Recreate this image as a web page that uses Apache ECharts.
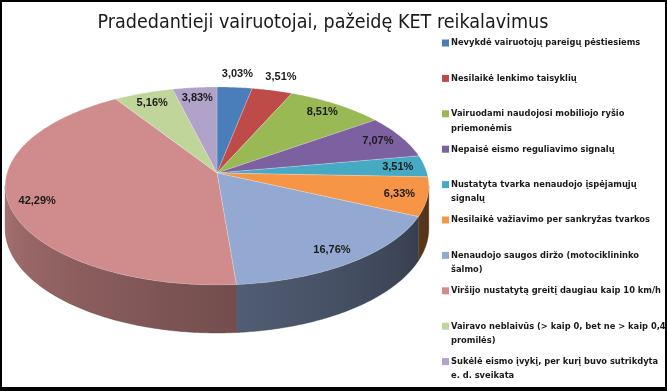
<!DOCTYPE html>
<html><head><meta charset="utf-8">
<script src="https://cdn.jsdelivr.net/npm/echarts@6/dist/echarts.min.js"></script>
<style>html,body{margin:0;padding:0;background:#fff}#c{width:667px;height:391px}</style>
</head><body><div id="c"></div>
<script>
// ---- data ----
const categories = [
  'Nevykdė vairuotojų pareigų pėstiesiems',
  'Nesilaikė lenkimo taisyklių',
  'Vairuodami naudojosi mobiliojo ryšio\npriemonėmis',
  'Nepaisė eismo reguliavimo signalų',
  'Nustatyta tvarka nenaudojo įspėjamųjų\nsignalų',
  'Nesilaikė važiavimo per sankryžas tvarkos',
  'Nenaudojo saugos diržo (motociklininko\nšalmo)',
  'Viršijo nustatytą greitį daugiau kaip 10 km/h',
  'Vairavo neblaivūs (> kaip 0, bet ne > kaip 0,4\npromilės)',
  'Sukėlė eismo įvykį, per kurį buvo sutrikdyta\ne. d. sveikata'
];
const values = [3.03, 3.51, 8.51, 7.07, 3.51, 6.33, 16.76, 42.29, 5.16, 3.83];
const colors = ['#4A7EBB','#BE4B48','#98B954','#7D60A0','#46AAC5','#F69545','#93A9D2','#D08C8C','#C0D59A','#B0A2C8'];
const titleText = 'Pradedantieji vairuotojai, pažeidę KET reikalavimus';

// ---- layout (projected 3D disk) ----
const CX = 217, CY = 173, R = 210, S = 97.3, K = 0.131, D = 41.7;
const outsideLabels = [0, 1];
const total = values.reduce((a, b) => a + b, 0);
const TAU = Math.PI * 2;

// font fitting
const FAMILY = '"Liberation Sans Narrow", "DejaVu Sans Condensed", sans-serif';
const mctx = document.createElement('canvas').getContext('2d');
function fitSize(text, weight, target) {
  mctx.font = weight + ' 100px ' + FAMILY;
  return 100 * target / mctx.measureText(text).width;
}
const titleSize = Math.min(22, fitSize(titleText, 'normal', 451));
const legendSize = Math.min(11.5, fitSize('Viršijo nustatytą greitį daugiau kaip 10 km/h', 'bold', 210));

function proj(r, phi) {
  const u = r * Math.sin(phi), v = -r * Math.cos(phi);
  const w = 1 - K * v;
  return [CX + R * u / w, CY + S * v / w, w];
}
function shade(hex, f) {
  const n = parseInt(hex.slice(1), 16);
  const r = Math.round(((n >> 16) & 255) * f), g = Math.round(((n >> 8) & 255) * f), b = Math.round((n & 255) * f);
  return 'rgb(' + r + ',' + g + ',' + b + ')';
}
function wallShade(phi) {
  const deg = phi * 180 / Math.PI;
  return 0.3 + 0.53 * (deg - 90) / 180;
}
const phiMin = Math.acos(-K), phiMax = TAU - Math.acos(-K);

function renderItem(params, api) {
  const i = params.dataIndex;
  let before = 0;
  for (let j = 0; j < i; j++) before += values[j];
  const a0 = before / total * TAU;
  const a1 = (before + api.value(0)) / total * TAU;
  const children = [];
  const pts = [[CX, CY]];
  const steps = Math.max(2, Math.ceil((a1 - a0) / 0.01));
  for (let s = 0; s <= steps; s++) {
    const p = proj(1, a0 + (a1 - a0) * s / steps);
    pts.push([p[0], p[1]]);
  }
  children.push({ type: 'polygon', z2: 10, shape: { points: pts },
    style: { fill: colors[i], stroke: 'rgba(255,255,255,0.35)', lineWidth: 0.6 } });
  const w0 = Math.max(a0, phiMin), w1 = Math.min(a1, phiMax);
  if (w1 > w0) {
    const top = [], bot = [];
    const ws = Math.max(2, Math.ceil((w1 - w0) / 0.01));
    for (let s = 0; s <= ws; s++) {
      const phi = w0 + (w1 - w0) * s / ws;
      const p = proj(1, phi);
      top.push([p[0], p[1]]);
      bot.push([p[0], p[1] + D / p[2]]);
    }
    const poly = top.concat(bot.reverse());
    const xs = poly.map(p => p[0]);
    const x0 = Math.min(...xs), x1 = Math.max(...xs);
    const stops = [];
    for (let s = 0; s <= 10; s++) {
      const phi = w0 + (w1 - w0) * s / 10;
      const p = proj(1, phi);
      stops.push({ offset: x1 > x0 ? (p[0] - x0) / (x1 - x0) : 0, color: shade(colors[i], wallShade(phi)) });
    }
    stops.sort((p, q) => p.offset - q.offset);
    stops.forEach(st => { st.offset = Math.min(1, Math.max(0, st.offset)); });
    children.push({ type: 'polygon', z2: 1, shape: { points: poly },
      style: { fill: { type: 'linear', x: x0, y: 0, x2: x1, y2: 0, global: true, colorStops: stops },
        stroke: shade(colors[i], 0.4), lineWidth: 0.4 } });
  }
  const mid = (a0 + a1) / 2;
  const rl = outsideLabels.indexOf(i) >= 0 ? 1.18 : 0.87;
  const lp = proj(rl, mid);
  children.push({ type: 'text', z2: 20, x: lp[0], y: lp[1],
    style: { text: api.value(0).toFixed(2).replace('.', ',') + '%', align: 'center', verticalAlign: 'middle',
      fill: '#1a1a1a', font: 'bold 11px "Liberation Sans", Arial, sans-serif' } });
  return { type: 'group', children: children };
}

const legendGraphics = [];
categories.forEach((name, i) => {
  const yc = 43 + i * 35.4;
  legendGraphics.push({ type: 'rect', left: 442, top: yc - 3.5, shape: { width: 7, height: 7 },
    style: { fill: colors[i] } });
  legendGraphics.push({ type: 'text', left: 451, top: yc - 7.25,
    style: { text: name, fill: '#1a1a1a', lineHeight: 14.5,
      font: 'bold ' + legendSize.toFixed(2) + 'px ' + FAMILY } });
});
const frame = [
  { type: 'rect', left: 0, top: 0, shape: { width: 667, height: 2 }, style: { fill: '#000' } },
  { type: 'rect', left: 0, top: 0, shape: { width: 2, height: 391 }, style: { fill: '#000' } },
  { type: 'rect', left: 665, top: 0, shape: { width: 2, height: 391 }, style: { fill: '#000' } },
  { type: 'rect', left: 0, top: 387, shape: { width: 667, height: 4 }, style: { fill: '#000' } }
];

const chart = echarts.init(document.getElementById('c'));
chart.setOption({
  backgroundColor: '#fff',
  animation: false,
  title: { text: titleText, left: 318, top: 20 - titleSize * 0.62, textAlign: 'center',
    textStyle: { fontFamily: FAMILY, fontSize: titleSize, fontWeight: 'normal', color: '#1a1a1a' } },
  graphic: legendGraphics.concat(frame),
  series: [{
    type: 'custom', coordinateSystem: 'none', renderItem: renderItem,
    data: values.map((v, i) => ({ value: v, name: categories[i] }))
  }]
});
</script></body></html>
